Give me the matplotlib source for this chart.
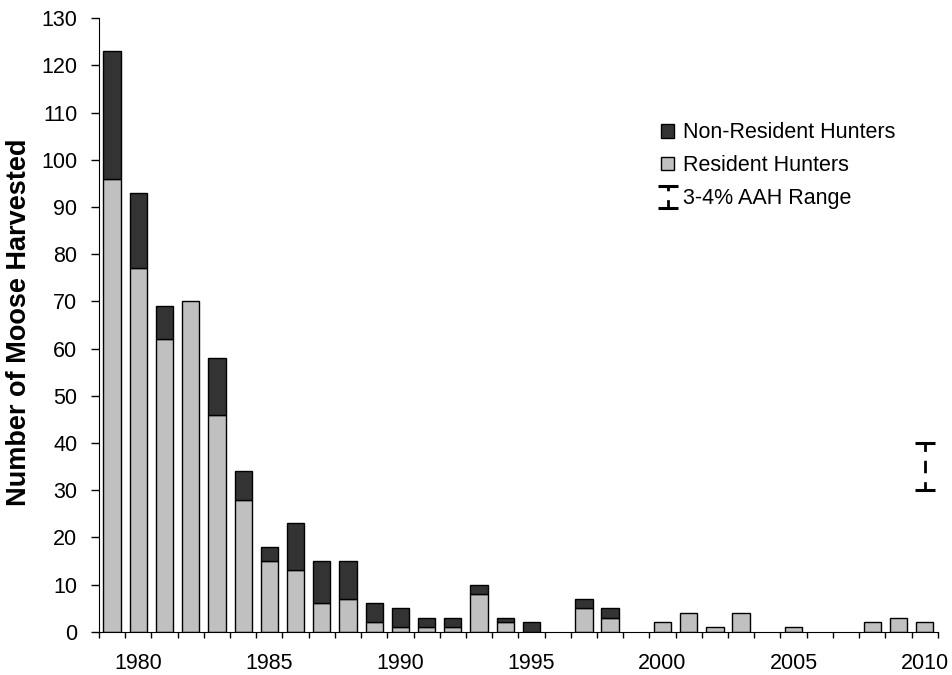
import numpy as np
import matplotlib
matplotlib.use('Agg')
import matplotlib.pyplot as plt

plt.rcParams['font.family'] = ['Liberation Sans', 'DejaVu Sans']

# harvest by year
years = list(range(1979, 2011))
resident = [96, 77, 62, 70, 46, 28, 15, 13, 6, 7, 2, 1, 1, 1, 8, 2,
            0, 0, 5, 3, 0, 2, 4, 1, 4, 0, 1, 0, 0, 2, 3, 2]
non_resident = [27, 16, 7, 0, 12, 6, 3, 10, 9, 8, 4, 4, 2, 2, 2, 1,
                2, 0, 2, 2, 0, 0, 0, 0, 0, 0, 0, 0, 0, 0, 0, 0]
label_years = [1980, 1985, 1990, 1995, 2000, 2005, 2010]

# allowable annual harvest range (3-4%)
aah_year = 2010
aah_low = 30
aah_high = 40

fig = plt.figure(figsize=(9.52, 6.75), dpi=100)
ax = fig.add_axes([0.104, 0.064, 0.881, 0.909])

x = np.array(years)
res = np.array(resident, dtype=float)
nres = np.array(non_resident, dtype=float)

# empty years get no bar at all (like the original)
res_h = np.where(res > 0, res, np.nan)
nres_h = np.where(nres > 0, nres, np.nan)

ax.bar(x, res_h, width=0.66, color='#c0c0c0', edgecolor='black', linewidth=1,
       label='Resident Hunters', zorder=2)
ax.bar(x, nres_h, width=0.66, bottom=res, color='#333333', edgecolor='black',
       linewidth=1, label='Non-Resident Hunters', zorder=2)

mid = (aah_low + aah_high) / 2
eb = ax.errorbar([aah_year], [mid], yerr=[[mid - aah_low], [aah_high - mid]],
                 fmt='none', ecolor='black', elinewidth=2, capsize=7,
                 capthick=2.2, label='3-4% AAH Range', zorder=3)
eb[2][0].set_linestyle((1.5, (4.5, 3.2)))

ax.set_ylim(0, 130)
ax.set_xlim(years[0] - 0.5, years[-1] + 0.5)
ax.set_yticks(range(0, 131, 10))
ax.tick_params(axis='y', labelsize=15.5, direction='out', length=5.5,
               width=1, pad=10)

# ticks between categories, labels at category centres
ax.set_xticks(np.arange(years[0] - 0.5, years[-1] + 1, 1.0))
ax.set_xticklabels([])
ax.tick_params(axis='x', which='major', direction='out', length=4, width=1)
ax.set_xticks(label_years, minor=True)
ax.set_xticklabels([str(y) for y in label_years], minor=True)
ax.tick_params(axis='x', which='minor', length=0, labelsize=15.5, pad=15)

ax.spines['top'].set_visible(False)
ax.spines['right'].set_visible(False)

ax.set_ylabel('Number of Moose Harvested', fontsize=19.5, fontweight='bold')
ax.yaxis.set_label_coords(-0.08, 0.505)

handles, labels = ax.get_legend_handles_labels()
order = [labels.index('Non-Resident Hunters'), labels.index('Resident Hunters'),
         labels.index('3-4% AAH Range')]
ax.legend([handles[i] for i in order], [labels[i] for i in order],
          loc='upper left', bbox_to_anchor=(642 / 952, 1 - 103 / 675),
          bbox_transform=fig.transFigure, frameon=False, fontsize=15.5,
          handlelength=0.6, handleheight=0.6, handletextpad=0.4,
          labelspacing=0.55)

fig.savefig('out.png', dpi=100)
